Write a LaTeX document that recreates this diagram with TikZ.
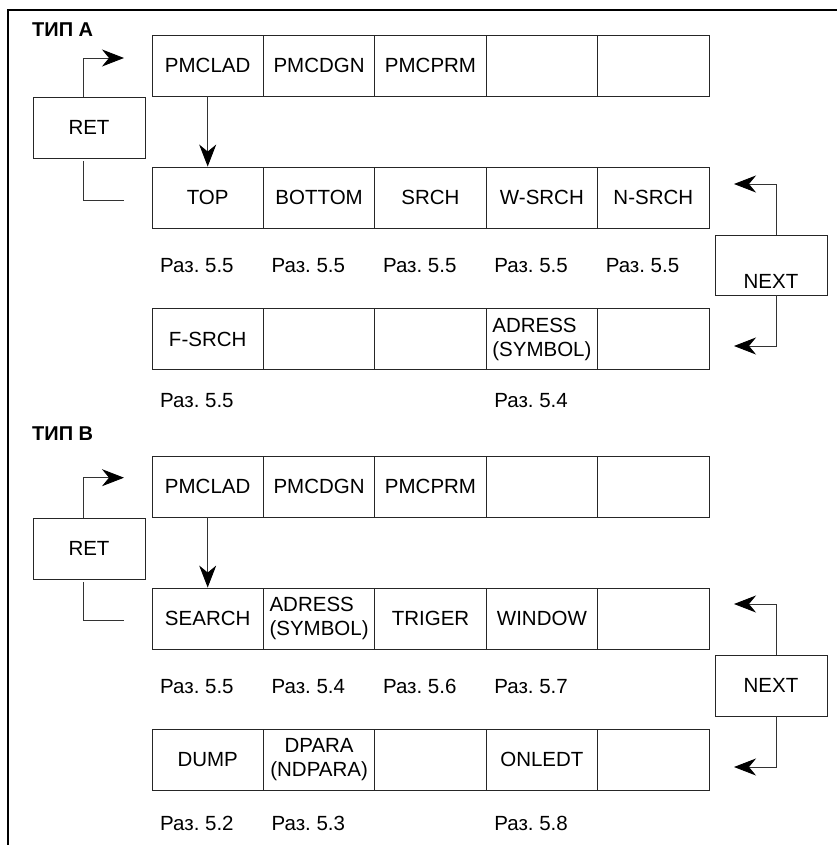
\documentclass[tikz,border=0pt]{standalone}
\usepackage{fontspec}
\setmainfont{Liberation Sans}
\frenchspacing
\usetikzlibrary{arrows.meta,positioning}

\begin{document}
\begin{tikzpicture}[
  x=1pt, y=-1pt,
  font=\fontsize{20.5}{24}\selectfont,
  cell/.style={draw=black!85, line width=0.9pt, minimum width=111.4pt, minimum height=61pt,
               inner sep=0pt, align=center},
  key/.style={draw=black!85, line width=0.9pt, minimum width=112pt, minimum height=61pt,
              inner sep=0pt, align=center},
  ref/.style={anchor=base west, inner sep=0pt},
  title/.style={anchor=base west, inner sep=0pt, font=\fontsize{20}{23}\selectfont\bfseries},
  arr/.style={draw=black!80, line width=0.9pt,
              -{Stealth[length=22pt, width=17pt, inset=7pt, color=black]}},
  link/.style={draw=black!80, line width=0.9pt},
  frame/.style={line width=2.2pt}
]
\useasboundingbox (0,0) rectangle (837,845);

% outer frame
\draw[frame] (8,845) -- (8,10) -- (837,10);

% ---- type A
\node[title] (titA) at (32,36.7) {ТИП А};

\node[cell] (a11) at (207.7,65.5) {PMCLAD};
\node[cell] (a12) at (319.1,65.5) {PMCDGN};
\node[cell] (a13) at (430.5,65.5) {PMCPRM};
\node[cell] (a14) at (541.9,65.5) {};
\node[cell] (a15) at (653.3,65.5) {};

\node[cell] (a21) at (207.7,197.5) {TOP};
\node[cell] (a22) at (319.1,197.5) {BOTTOM};
\node[cell] (a23) at (430.5,197.5) {SRCH};
\node[cell] (a24) at (541.9,197.5) {W-SRCH};
\node[cell] (a25) at (653.3,197.5) {N-SRCH};

\node[ref] (ra21) at (160,272) {Раз. 5.5};
\node[ref] (ra22) at (271.4,272) {Раз. 5.5};
\node[ref] (ra23) at (382.8,272) {Раз. 5.5};
\node[ref] (ra24) at (494.2,272) {Раз. 5.5};
\node[ref] (ra25) at (605.6,272) {Раз. 5.5};

\node[cell] (a31) at (207.7,339) {F-SRCH};
\node[cell] (a32) at (319.1,339) {};
\node[cell] (a33) at (430.5,339) {};
\node[cell, align=left] (a34) at (541.9,339) {ADRESS\\(SYMBOL)};
\node[cell] (a35) at (653.3,339) {};

\node[ref] (ra31) at (160,407) {Раз. 5.5};
\node[ref] (ra34) at (494.2,407) {Раз. 5.4};

\node[key] (retA) at (89,127.5) {RET};
\node[key, minimum height=60pt, text height=48pt, text depth=2pt] (nextA) at (771,265) {NEXT};

\coordinate (retAin) at (124,58);
\coordinate (retAout) at (124,200);
\coordinate (nextAup) at (734,184);
\coordinate (nextAdn) at (734,346);

\draw[arr] ([xshift=-6pt]retA.north) |- (retAin);
\draw[link] ([xshift=-6pt, yshift=-3pt]retA.south) |- (retAout);
\draw[arr] (a11.south) -- (a21.north);
\draw[arr] ([xshift=5pt]nextA.north) |- (nextAup);
\draw[arr] ([xshift=5pt]nextA.south) |- (nextAdn);

% ---- type B
\node[title] (titB) at (32,440.7) {ТИП В};

\node[cell] (b11) at (207.7,486.5) {PMCLAD};
\node[cell] (b12) at (319.1,486.5) {PMCDGN};
\node[cell] (b13) at (430.5,486.5) {PMCPRM};
\node[cell] (b14) at (541.9,486.5) {};
\node[cell] (b15) at (653.3,486.5) {};

\node[cell] (b21) at (207.7,618.5) {SEARCH};
\node[cell, align=left] (b22) at (319.1,618.5) {ADRESS\\(SYMBOL)};
\node[cell] (b23) at (430.5,618.5) {TRIGER};
\node[cell] (b24) at (541.9,618.5) {WINDOW};
\node[cell] (b25) at (653.3,618.5) {};

\node[ref] (rb21) at (160,693.5) {Раз. 5.5};
\node[ref] (rb22) at (271.4,693.5) {Раз. 5.4};
\node[ref] (rb23) at (382.8,693.5) {Раз. 5.6};
\node[ref] (rb24) at (494.2,693.5) {Раз. 5.7};

\node[cell] (b31) at (207.7,759.5) {DUMP};
\node[cell] (b32) at (319.1,759.5) {DPARA\\(NDPARA)};
\node[cell] (b33) at (430.5,759.5) {};
\node[cell] (b34) at (541.9,759.5) {ONLEDT};
\node[cell] (b35) at (653.3,759.5) {};

\node[ref] (rb31) at (160,830.7) {Раз. 5.2};
\node[ref] (rb32) at (271.4,830.7) {Раз. 5.3};
\node[ref] (rb34) at (494.2,830.7) {Раз. 5.8};

\node[key] (retB) at (89,548.5) {RET};
\node[key] (nextB) at (771,685.5) {NEXT};

\coordinate (retBin) at (124,477.7);
\coordinate (retBout) at (124,620);
\coordinate (nextBup) at (734,604);
\coordinate (nextBdn) at (734,767);

\draw[arr] ([xshift=-6pt]retB.north) |- (retBin);
\draw[link] ([xshift=-6pt, yshift=-3pt]retB.south) |- (retBout);
\draw[arr] (b11.south) -- (b21.north);
\draw[arr] ([xshift=5pt]nextB.north) |- (nextBup);
\draw[arr] ([xshift=5pt]nextB.south) |- (nextBdn);
\end{tikzpicture}
\end{document}
